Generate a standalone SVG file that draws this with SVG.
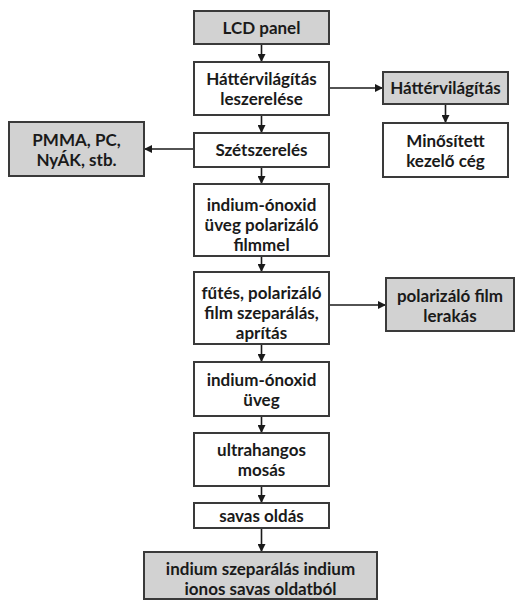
<svg xmlns="http://www.w3.org/2000/svg" width="517" height="600" viewBox="0 0 517 600">
<style>
.box{fill:#ffffff;stroke:#3a3a3a;stroke-width:2}
.grey{fill:#d2d2d2;stroke:#3a3a3a;stroke-width:2}
text{font-family:Lato,"Open Sans","DejaVu Sans",sans-serif;font-weight:bold;font-size:17px;fill:#1a1a1a;text-anchor:middle}
.c{stroke:#1a1a1a;stroke-width:1.6;fill:none;marker-end:url(#ah)}
</style>
<defs>
<marker id="ah" viewBox="0 0 10 10" refX="10" refY="5" markerWidth="8" markerHeight="8" markerUnits="userSpaceOnUse" orient="auto">
<path d="M0,0 L10,5 L0,10 z" fill="#1a1a1a"/>
</marker>
</defs>
<rect width="517" height="600" fill="#ffffff"/>
<g id="connectors">
<line class="c" x1="261.5" y1="44" x2="261.5" y2="62"/>
<line class="c" x1="261.5" y1="115" x2="261.5" y2="133"/>
<line class="c" x1="261.5" y1="167" x2="261.5" y2="184"/>
<line class="c" x1="261.5" y1="256" x2="261.5" y2="272"/>
<line class="c" x1="261.5" y1="344" x2="261.5" y2="362"/>
<line class="c" x1="261.5" y1="416" x2="261.5" y2="433"/>
<line class="c" x1="261.5" y1="486" x2="261.5" y2="503"/>
<line class="c" x1="261.5" y1="528" x2="261.5" y2="552"/>
<line class="c" x1="329" y1="88" x2="383" y2="88"/>
<line class="c" x1="445.5" y1="104" x2="445.5" y2="123"/>
<line class="c" x1="194" y1="149" x2="144" y2="149"/>
<line class="c" x1="329" y1="305" x2="386" y2="305"/>
</g>
<g id="lcd"><rect class="grey" x="194" y="11" width="135" height="33"/><text x="261.5" y="33.5">LCD panel</text></g>
<g id="hatter-lesz"><rect class="box" x="194" y="62" width="135" height="53"/><text x="261.5" y="85">Háttérvilágítás</text><text x="261.5" y="105">leszerelése</text></g>
<g id="szet"><rect class="box" x="194" y="133" width="135" height="34"/><text x="261.5" y="156">Szétszerelés</text></g>
<g id="indium1"><rect class="box" x="194" y="184" width="135" height="72"/><text x="261.5" y="211">indium-ónoxid</text><text x="261.5" y="231">üveg polarizáló</text><text x="261.5" y="251">filmmel</text></g>
<g id="futes"><rect class="box" x="194" y="272" width="135" height="72"/><text x="261.5" y="299">fűtés, polarizáló</text><text x="261.5" y="319">film szeparálás,</text><text x="261.5" y="339">aprítás</text></g>
<g id="indium2"><rect class="box" x="194" y="362" width="135" height="54"/><text x="261.5" y="386">indium-ónoxid</text><text x="261.5" y="406">üveg</text></g>
<g id="ultra"><rect class="box" x="194" y="433" width="135" height="53"/><text x="261.5" y="456">ultrahangos</text><text x="261.5" y="476">mosás</text></g>
<g id="savas"><rect class="box" x="194" y="503" width="135" height="25"/><text x="261.5" y="521.5">savas oldás</text></g>
<g id="final"><rect class="grey" x="144" y="552" width="233" height="47"/><text x="260.5" y="575">indium szeparálás indium</text><text x="260.5" y="595">ionos savas oldatból</text></g>
<g id="pmma"><rect class="grey" x="9" y="122" width="135" height="54"/><text x="76.5" y="146">PMMA, PC,</text><text x="76.5" y="166">NyÁK, stb.</text></g>
<g id="hatter"><rect class="grey" x="383" y="72" width="125" height="32"/><text x="445.5" y="94">Háttérvilágítás</text></g>
<g id="minos"><rect class="box" x="383" y="123" width="125" height="54"/><text x="445.5" y="147">Minősített</text><text x="445.5" y="167">kezelő cég</text></g>
<g id="polar"><rect class="grey" x="386" y="278" width="128" height="53"/><text x="450" y="302">polarizáló film</text><text x="450" y="322">lerakás</text></g>
</svg>
